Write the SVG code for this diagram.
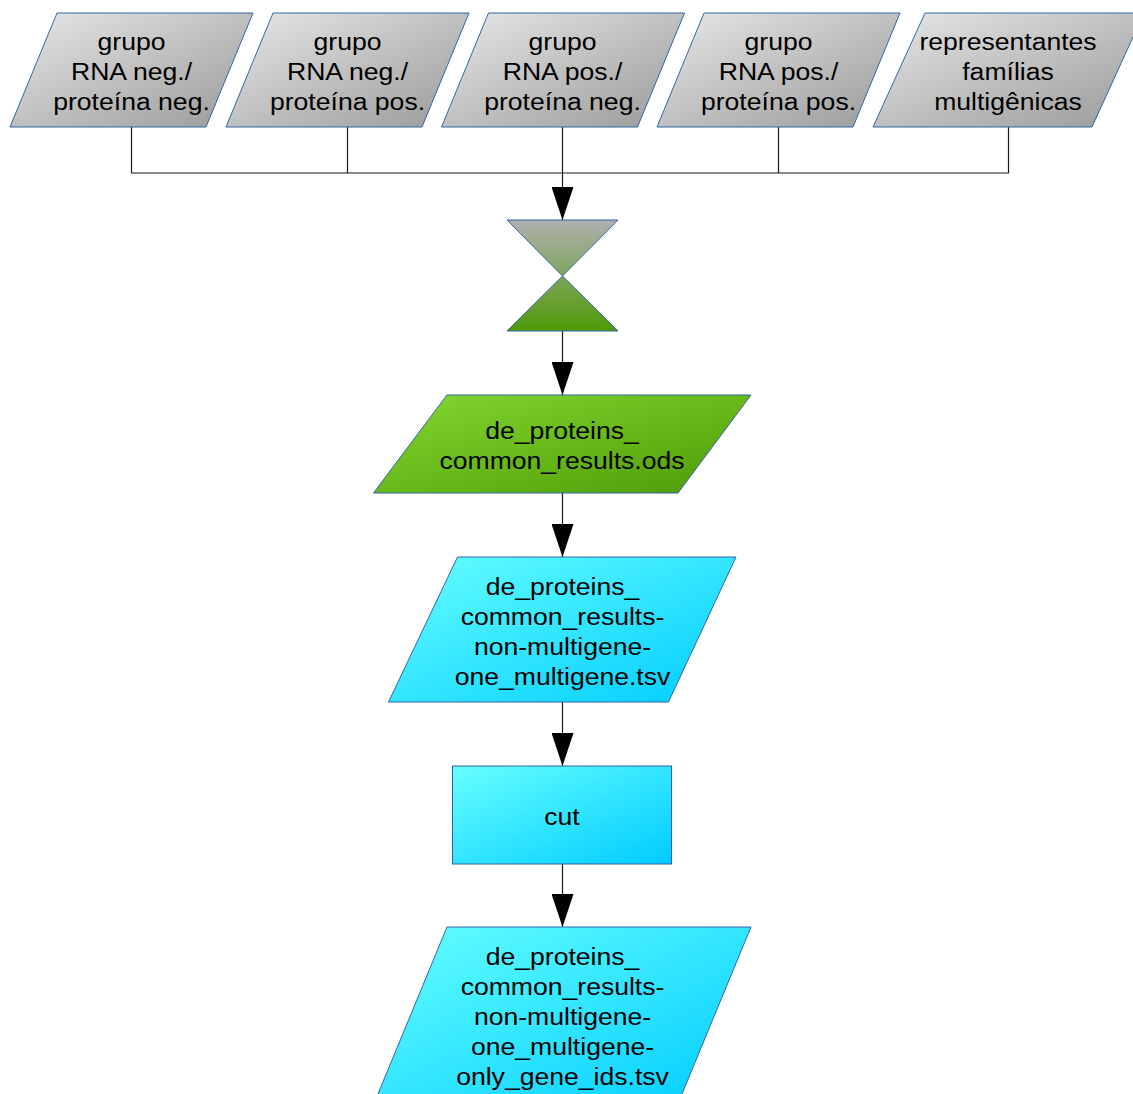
<svg xmlns="http://www.w3.org/2000/svg" width="1133" height="1094" viewBox="0 0 1133 1094">
  <defs>
    <linearGradient id="gGrey" x1="0" y1="0" x2="1" y2="1">
      <stop offset="0" stop-color="#e8e8e8"/>
      <stop offset="1" stop-color="#999999"/>
    </linearGradient>
    <linearGradient id="gGreen" x1="0" y1="0" x2="1" y2="1">
      <stop offset="0" stop-color="#83d830"/>
      <stop offset="1" stop-color="#4e9a06"/>
    </linearGradient>
    <linearGradient id="gHour" gradientUnits="userSpaceOnUse" x1="0" y1="220" x2="0" y2="331">
      <stop offset="0" stop-color="#b0b0b0"/>
      <stop offset="1" stop-color="#4e9a06"/>
    </linearGradient>
    <linearGradient id="gCyan" x1="0" y1="0" x2="1" y2="1">
      <stop offset="0" stop-color="#66ffff"/>
      <stop offset="1" stop-color="#00ccff"/>
    </linearGradient>
    <marker id="arrow" markerUnits="userSpaceOnUse" markerWidth="34" markerHeight="22" refX="33" refY="11" orient="auto">
      <path d="M0,0 L33,11 L0,22 Z" fill="#000"/>
    </marker>
  </defs>
  <style>
    .shape { stroke: #3465a4; stroke-width: 1; }
    .grey { fill: url(#gGrey); }
    .green { fill: url(#gGreen); }
    .cyan { fill: url(#gCyan); }
    .lbl { font-family: "Liberation Sans", Arial, sans-serif; font-size: 24.5px; fill: #000; text-anchor: middle; }
    .conn { fill: none; stroke: #1a1a1a; stroke-width: 1.2; }
  </style>

  <g id="connectors">
    <path class="conn" d="M131.5,127 V173 H1008.5 V127"/>
    <path class="conn" d="M347.5,127 V173"/>
    <path class="conn" d="M778.5,127 V173"/>
    <path class="conn" d="M562.5,127 V220" marker-end="url(#arrow)"/>
    <path class="conn" d="M562.5,331 V395" marker-end="url(#arrow)"/>
    <path class="conn" d="M562.5,493 V557" marker-end="url(#arrow)"/>
    <path class="conn" d="M562.5,702 V766" marker-end="url(#arrow)"/>
    <path class="conn" d="M562.5,864 V927" marker-end="url(#arrow)"/>
  </g>

  <g id="node-rna-neg-prot-neg">
    <polygon class="shape grey" points="10,127 57,13 253,13 206,127"/>
    <text class="lbl" transform="translate(131.5 0) scale(1.085 1)"><tspan x="0" y="50">grupo</tspan><tspan x="0" y="80">RNA neg./</tspan><tspan x="0" y="110">proteína neg.</tspan></text>
  </g>
  <g id="node-rna-neg-prot-pos">
    <polygon class="shape grey" points="226,127 273,13 469,13 422,127"/>
    <text class="lbl" transform="translate(347.5 0) scale(1.085 1)"><tspan x="0" y="50">grupo</tspan><tspan x="0" y="80">RNA neg./</tspan><tspan x="0" y="110">proteína pos.</tspan></text>
  </g>
  <g id="node-rna-pos-prot-neg">
    <polygon class="shape grey" points="441.5,127 488.5,13 684.5,13 637.5,127"/>
    <text class="lbl" transform="translate(562.5 0) scale(1.085 1)"><tspan x="0" y="50">grupo</tspan><tspan x="0" y="80">RNA pos./</tspan><tspan x="0" y="110">proteína neg.</tspan></text>
  </g>
  <g id="node-rna-pos-prot-pos">
    <polygon class="shape grey" points="657,127 704,13 900,13 853,127"/>
    <text class="lbl" transform="translate(778.5 0) scale(1.085 1)"><tspan x="0" y="50">grupo</tspan><tspan x="0" y="80">RNA pos./</tspan><tspan x="0" y="110">proteína pos.</tspan></text>
  </g>
  <g id="node-multigene">
    <polygon class="shape grey" points="873,127 925,13 1144,13 1092,127"/>
    <text class="lbl" transform="translate(1008 0) scale(1.085 1)"><tspan x="0" y="50">representantes</tspan><tspan x="0" y="80">famílias</tspan><tspan x="0" y="110">multigênicas</tspan></text>
  </g>

  <g id="node-collate">
    <polygon class="shape" fill="url(#gHour)" points="507,220 618,220 562.5,276"/>
    <polygon class="shape" fill="url(#gHour)" points="562.5,276 618,331 507,331"/>
  </g>

  <g id="node-ods">
    <polygon class="shape green" points="373.5,493 447,395 751,395 678,493"/>
    <text class="lbl" transform="translate(562 0) scale(1.085 1)"><tspan x="0" y="439">de_proteins_</tspan><tspan x="0" y="469">common_results.ods</tspan></text>
  </g>

  <g id="node-tsv1">
    <polygon class="shape cyan" points="388.5,702 457.5,557 736,557 668.5,702"/>
    <text class="lbl" transform="translate(562.5 0) scale(1.085 1)"><tspan x="0" y="595">de_proteins_</tspan><tspan x="0" y="625">common_results-</tspan><tspan x="0" y="655">non-multigene-</tspan><tspan x="0" y="685">one_multigene.tsv</tspan></text>
  </g>

  <g id="node-cut">
    <rect class="shape cyan" x="452.5" y="766" width="219" height="98"/>
    <text class="lbl" transform="translate(562 0) scale(1.085 1)"><tspan x="0" y="825">cut</tspan></text>
  </g>

  <g id="node-tsv2">
    <polygon class="shape cyan" points="373,1106 447,927 751,927 677,1106"/>
    <text class="lbl" transform="translate(562.5 0) scale(1.085 1)"><tspan x="0" y="965">de_proteins_</tspan><tspan x="0" y="995">common_results-</tspan><tspan x="0" y="1025">non-multigene-</tspan><tspan x="0" y="1055">one_multigene-</tspan><tspan x="0" y="1085">only_gene_ids.tsv</tspan></text>
  </g>
</svg>
